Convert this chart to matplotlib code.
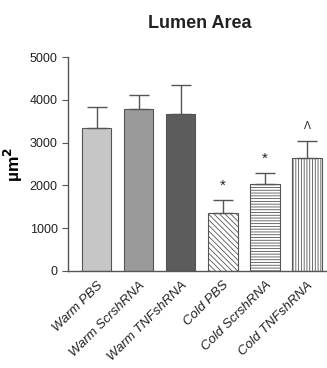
import matplotlib.pyplot as plt
import matplotlib as mpl

plt.rcParams['font.family'] = ['Liberation Sans', 'DejaVu Sans']
mpl.rcParams['hatch.color'] = '#8a8a8a'
mpl.rcParams['hatch.linewidth'] = 0.6

# --- Data ---
groups = ["Warm PBS", "Warm ScrshRNA", "Warm TNFshRNA",
          "Cold PBS", "Cold ScrshRNA", "Cold TNFshRNA"]
means = [3340, 3790, 3670, 1360, 2040, 2640]
errors = [500, 320, 680, 290, 240, 390]
marks = ["", "", "", "*", "*", "^"]

colors = ["#c6c6c6", "#9a9a9a", "#5c5c5c", "white", "white", "white"]
hatches = [None, None, None, "\\\\\\\\\\\\", "------", "||||||"]

fig = plt.figure(figsize=(3.27, 3.68), dpi=100)
ax = fig.add_axes([0.208, 0.2636, 0.79, 0.5815])

x = list(range(len(groups)))
for i in x:
    ax.bar(i, means[i], width=0.7, color=colors[i], edgecolor="#555555",
           linewidth=0.8, hatch=hatches[i], zorder=2)
    ax.errorbar(i, means[i], yerr=[[0], [errors[i]]], fmt="none",
                ecolor="#555555", elinewidth=1.0, capsize=7, capthick=1.0, zorder=3)
    if marks[i] == "*":
        ax.text(i, means[i] + errors[i] + 180, "*", ha="center", va="bottom",
                fontsize=11, color="#222222")
    elif marks[i]:
        ax.text(i, means[i] + errors[i] + 230, "\u039b", ha="center", va="bottom",
                fontsize=7.5, color="#222222")

ax.set_xlim(-0.68, 5.46)
ax.set_ylim(0, 5000)
ax.set_yticks([0, 1000, 2000, 3000, 4000, 5000])
ax.set_xticks(x)
ax.set_xticklabels(groups, rotation=45, ha="right", rotation_mode="anchor",
                   fontstyle="italic", fontsize=9.5, color="#222222")
ax.tick_params(axis="y", labelsize=9, length=4, width=0.8, color="#555555",
               labelcolor="#222222")
ax.tick_params(axis="x", length=0, pad=6)

for side in ["top", "right"]:
    ax.spines[side].set_visible(False)
for side in ["left", "bottom"]:
    ax.spines[side].set_color("#555555")
    ax.spines[side].set_linewidth(1.0)

ax.set_ylabel("µm$^\\mathbf{2}$", fontsize=12.5, fontweight="bold", labelpad=3)
fig.text(0.61, 0.935, "Lumen Area", ha="center", va="center",
         fontsize=13, fontweight="bold", color="#222222")

fig.savefig("out.png", dpi=100)
